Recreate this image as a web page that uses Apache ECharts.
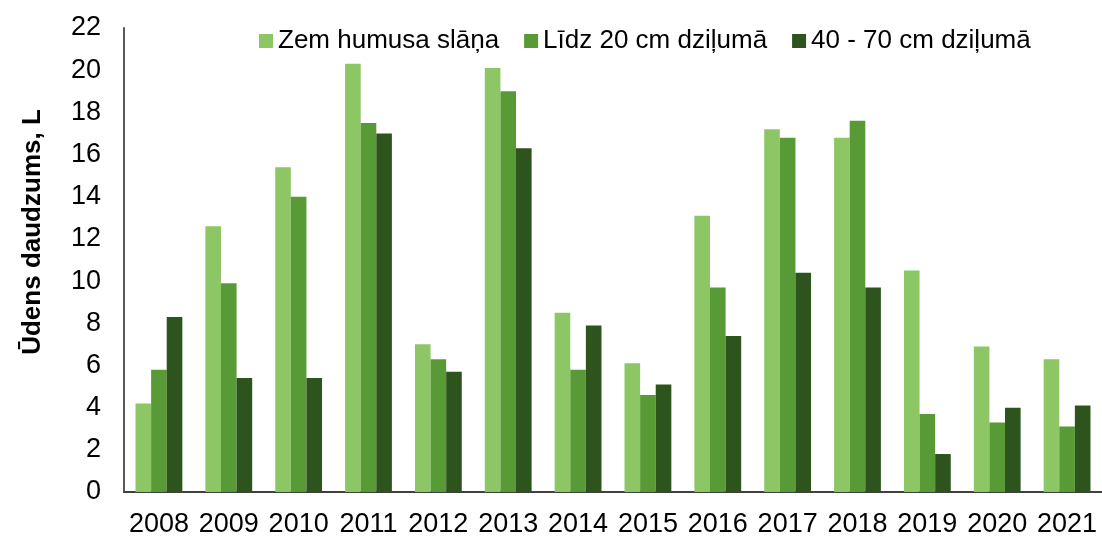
<!DOCTYPE html>
<html lang="lv">
<head>
    <meta charset="UTF-8">
    <title>Ūdens daudzums</title>
    <script src="https://cdn.jsdelivr.net/npm/echarts@6/dist/echarts.min.js"></script>
    <style>
        html, body { margin: 0; padding: 0; background: #fff; }
    </style>
</head>
<body>
    <div id="main" style="width: 1102px; height: 538px"></div>
    <script>
        var years = ['2008', '2009', '2010', '2011', '2012', '2013', '2014', '2015', '2016', '2017', '2018', '2019', '2020', '2021'];
        var seriesNames = ['Zem humusa slāņa', 'Līdz 20 cm dziļumā', '40 - 70 cm dziļumā'];
        var zemHumusa = [4.2, 12.6, 15.4, 20.3, 7.0, 20.1, 8.5, 6.1, 13.1, 17.2, 16.8, 10.5, 6.9, 6.3];
        var lidz20 = [5.8, 9.9, 14.0, 17.5, 6.3, 19.0, 5.8, 4.6, 9.7, 16.8, 17.6, 3.7, 3.3, 3.1];
        var dzilums4070 = [8.3, 5.4, 5.4, 17.0, 5.7, 16.3, 7.9, 5.1, 7.4, 10.4, 9.7, 1.8, 4.0, 4.1];
        var yTicks = [0, 2, 4, 6, 8, 10, 12, 14, 16, 18, 20, 22];

        var colors = ['#8cc665', '#589a35', '#2c541c'];
        var font = '"Liberation Sans", Arial, sans-serif';

        var mychart = echarts.init(document.getElementById('main'));

        var option = {
            animation: false,
            color: colors,
            textStyle: { fontFamily: font },
            grid: { left: 124, top: 28, width: 990, height: 465, containLabel: false },
            legend: {
                left: 254,
                top: 23,
                itemWidth: 14,
                itemHeight: 14,
                itemGap: 25,
                icon: 'rect',
                textStyle: { fontSize: 26, color: '#000', fontFamily: font },
                data: seriesNames
            },
            xAxis: {
                type: 'category',
                data: years,
                axisLine: { lineStyle: { color: '#404040', width: 2 } },
                axisTick: { show: false },
                axisLabel: { interval: 0, hideOverlap: false, fontSize: 27, color: '#000', margin: 19, fontFamily: font }
            },
            yAxis: {
                type: 'value',
                min: yTicks[0],
                max: yTicks[yTicks.length - 1],
                interval: 2,
                splitLine: { show: false },
                axisLine: { show: true, lineStyle: { color: '#595959', width: 2 } },
                axisTick: { show: false },
                axisLabel: { fontSize: 27, color: '#000', margin: 23, fontFamily: font }
            },
            graphic: [{
                type: 'text',
                x: 33,
                y: 232,
                rotation: Math.PI / 2,
                style: {
                    text: 'Ūdens daudzums, L',
                    font: 'bold 26px "Liberation Sans", Arial, sans-serif',
                    fill: '#000',
                    textAlign: 'center',
                    textVerticalAlign: 'middle'
                }
            }],
            series: [
                { name: seriesNames[0], type: 'bar', data: zemHumusa, barGap: '0%', barCategoryGap: '33%' },
                { name: seriesNames[1], type: 'bar', data: lidz20, barGap: '0%', barCategoryGap: '33%' },
                { name: seriesNames[2], type: 'bar', data: dzilums4070, barGap: '0%', barCategoryGap: '33%' }
            ]
        };

        mychart.setOption(option);
    </script>
</body>
</html>
